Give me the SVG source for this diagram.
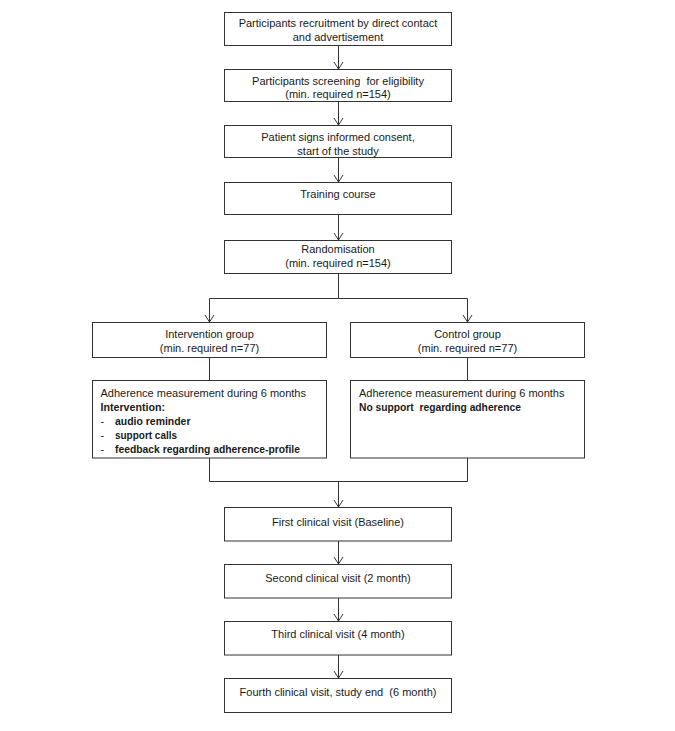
<svg xmlns="http://www.w3.org/2000/svg" width="675" height="731" viewBox="0 0 675 731">
<defs>
<marker id="arr" markerUnits="userSpaceOnUse" markerWidth="12" markerHeight="12" refX="0" refY="0" orient="auto" viewBox="-10 -6 12 12" overflow="visible">
<path d="M-7,-4.5 L0,0 L-7,4.5" fill="none" stroke="#333" stroke-width="1"/>
</marker>
</defs>
<style>
rect{fill:#fff;stroke:#333;stroke-width:1}
text{font-family:"Liberation Sans",Arial,sans-serif;font-size:11px;fill:#1a1a1a;white-space:pre}
.c{text-anchor:middle}
.b{font-weight:bold}
#connectors path{fill:none;stroke:#333;stroke-width:1}
</style>
<rect x="0" y="0" width="675" height="731" style="fill:#fff;stroke:none"/>
<g id="connectors">
<path d="M338.5,46 V69" marker-end="url(#arr)"/>
<path d="M338.5,102 V125" marker-end="url(#arr)"/>
<path d="M338.5,158 V182" marker-end="url(#arr)"/>
<path d="M338.5,215 V240" marker-end="url(#arr)"/>
<path d="M338.5,274 V298.5 H209.5 V322" marker-end="url(#arr)"/>
<path d="M338.5,298.5 H467.5 V322" marker-end="url(#arr)"/>
<path d="M209.5,358 V380.5"/>
<path d="M467.5,358 V380.5"/>
<path d="M209.5,458 V481.5 H467.5 V458"/>
<path d="M338.5,481.5 V507" marker-end="url(#arr)"/>
<path d="M338.5,541 V564" marker-end="url(#arr)"/>
<path d="M338.5,598 V621" marker-end="url(#arr)"/>
<path d="M338.5,655 V678" marker-end="url(#arr)"/>
</g>
<g id="n1">
<rect x="224.5" y="12.5" width="227" height="33"/>
<text class="c" x="338" y="27">Participants recruitment by direct contact</text>
<text class="c" x="338" y="40.5">and advertisement</text>
</g>
<g id="n2">
<rect x="224.5" y="69.5" width="227" height="32"/>
<text class="c" x="338" y="84.5">Participants screening  for eligibility</text>
<text class="c" x="338" y="98">(min. required n=154)</text>
</g>
<g id="n3">
<rect x="224.5" y="125.5" width="227" height="32"/>
<text class="c" x="338" y="140.5">Patient signs informed consent,</text>
<text class="c" x="338" y="154.5">start of the study</text>
</g>
<g id="n4">
<rect x="224.5" y="182.5" width="227" height="32"/>
<text class="c" x="338" y="198">Training course</text>
</g>
<g id="n5">
<rect x="224.5" y="240.5" width="227" height="33"/>
<text class="c" x="338" y="252.5">Randomisation</text>
<text class="c" x="338" y="266.5">(min. required n=154)</text>
</g>
<g id="n6">
<rect x="92.5" y="322.5" width="234" height="35"/>
<text class="c" x="209.5" y="338">Intervention group</text>
<text class="c" x="209.5" y="351.5">(min. required n=77)</text>
</g>
<g id="n7">
<rect x="350.5" y="322.5" width="234" height="35"/>
<text class="c" x="467.5" y="338">Control group</text>
<text class="c" x="467.5" y="351.5">(min. required n=77)</text>
</g>
<g id="n8">
<rect x="92.5" y="380.5" width="234" height="77.5"/>
<text x="100.5" y="396.5">Adherence measurement during 6 months</text>
<text class="b" x="100.5" y="410.5" textLength="64.5" lengthAdjust="spacingAndGlyphs">Intervention:</text>
<text x="100.5" y="424.5">-</text>
<text class="b" x="115" y="424.5" textLength="75.5" lengthAdjust="spacingAndGlyphs">audio reminder</text>
<text x="100.5" y="438.5">-</text>
<text class="b" x="115" y="438.5" textLength="62" lengthAdjust="spacingAndGlyphs">support calls</text>
<text x="100.5" y="452.5">-</text>
<text class="b" x="115" y="452.5" textLength="185" lengthAdjust="spacingAndGlyphs">feedback regarding adherence-profile</text>
</g>
<g id="n9">
<rect x="350.5" y="380.5" width="234" height="77.5"/>
<text x="359" y="396.5">Adherence measurement during 6 months</text>
<text class="b" x="359" y="410.5" textLength="162" lengthAdjust="spacingAndGlyphs">No support  regarding adherence</text>
</g>
<g id="n10">
<rect x="224.5" y="507.5" width="227" height="33.5"/>
<text class="c" x="338" y="525.5">First clinical visit (Baseline)</text>
</g>
<g id="n11">
<rect x="224.5" y="564.5" width="227" height="33.5"/>
<text class="c" x="338" y="581.5">Second clinical visit (2 month)</text>
</g>
<g id="n12">
<rect x="224.5" y="621.5" width="227" height="33.5"/>
<text class="c" x="338" y="638">Third clinical visit (4 month)</text>
</g>
<g id="n13">
<rect x="224.5" y="678.5" width="227" height="34"/>
<text class="c" x="338" y="695.5">Fourth clinical visit, study end  (6 month)</text>
</g>
</svg>
